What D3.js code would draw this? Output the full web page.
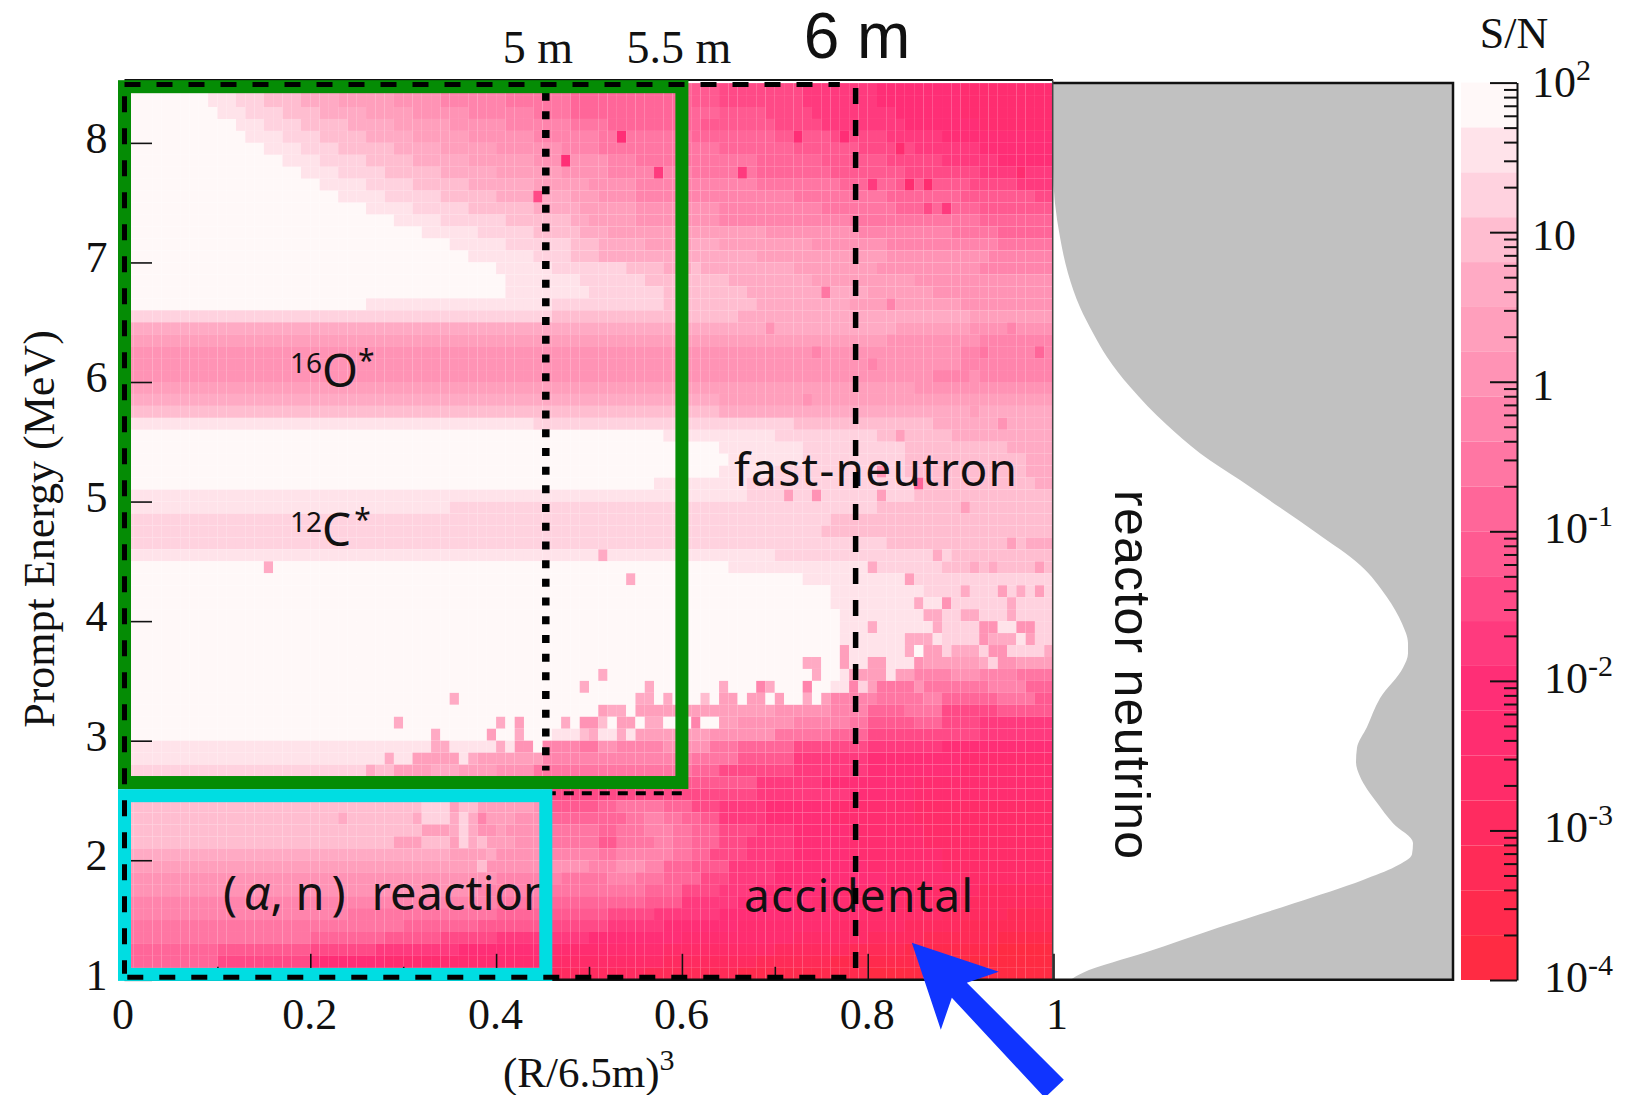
<!DOCTYPE html>
<html><head><meta charset="utf-8">
<script src="https://cdn.jsdelivr.net/npm/d3@7/dist/d3.min.js"></script>
<style>html,body{margin:0;background:#fff}svg{display:block}</style></head><body>
<svg id="c" width="1643" height="1095"></svg>
<script>
// S/N colour bands, top of the colour bar (10^2) to bottom (10^-4)
const bandColors = ["#fff8f8","#ffe3ea","#ffd2df","#ffbdd0","#ffaac4","#ff9fbc","#ff93b5","#ff84ac","#ff76a3","#ff6699",
 "#ff5a91","#ff4a87","#ff3a7e","#ff2e76","#ff2d70","#ff2c69","#ff2b60","#ff2b57","#ff2a4d","#ff2b43"];
const cbarTicksMajor = [100,10,1,0.1,0.01,0.001,0.0001];
const cbarLabels = [["10","2"],["10",""],["1",""],["10","-1"],["10","-2"],["10","-3"],["10","-4"]];
// Heat map, rows from 8.5 MeV downward: "column:band" runs, 100 columns of 0.01 and 75 rows of 0.1 MeV
const heatRows = [
"0:0 9:1 12:2 15:3 19:4 23:5 29:6 34:7 41:8 48:9 61:10 64:11 73:12 81:13 90:14",
"0:0 9:1 12:2 15:3 19:4 23:5 29:6 34:7 41:8 48:9 61:10 64:11 73:12 81:13 90:14",
"0:0 10:1 13:2 17:3 21:4 26:5 31:6 37:7 44:8 48:9 64:10 69:11 74:12 83:13 90:14",
"0:0 12:1 15:2 19:3 24:4 29:5 35:6 41:7 48:8 52:9 62:10 70:11 75:12 84:13 92:14",
"0:0 13:1 17:2 21:3 26:4 31:5 37:6 44:7 51:8 61:9 70:10 76:11 82:12 88:13",
"0:0 15:1 19:2 23:3 29:4 34:5 40:6 47:7 51:8 64:9 72:10 79:11 85:12 92:13",
"0:0 17:1 21:2 26:3 31:4 37:5 44:6 52:7 55:8 68:9 75:10 82:11 88:12 94:13",
"0:0 19:1 23:2 28:3 34:4 40:5 47:6 52:7 61:8 68:9 76:10 84:11 92:12",
"0:0 21:1 26:2 31:3 37:4 44:5 50:6 55:7 68:8 77:9 83:10 91:11 96:12",
"0:0 23:1 28:2 34:3 40:4 48:5 51:6 55:7 72:8 82:9 90:10 98:11",
"0:0 26:1 31:2 37:3 44:4 49:5 55:6 64:7 75:8 83:9 92:10",
"0:0 29:1 34:2 41:3 48:4 50:5 55:6 64:7 78:8 92:9",
"0:0 32:1 38:2 44:3 49:4 52:5 69:6 79:7 89:8 94:9",
"0:0 35:1 41:2 48:3 51:4 56:5 61:4 64:5 74:6 82:7 94:8",
"0:0 37:1 44:2 48:3 51:4 68:5 82:6 93:7",
"0:0 40:1 46:2 54:3 58:4 61:3 62:4 72:5 81:6 92:7",
"0:0 41:1 49:2 56:3 65:4 74:5 85:6",
"0:0 41:1 50:2 58:3 67:4 80:5 87:6",
"0:0 26:1 46:2 58:3 68:4 78:5 90:6",
"0:2 46:3 66:4 91:5",
"0:4 83:5 91:6",
"0:5 82:6 92:7",
"0:6 90:7",
"0:6 90:7",
"0:6 88:7",
"0:5 85:6",
"0:4 64:5",
"0:3 64:4",
"0:1 44:2 72:3 87:4",
"0:0 58:1 70:2 81:3 89:4",
"0:0 64:1 73:2 84:3 95:4",
"0:0 65:1 73:2 84:3 97:4",
"0:0 64:1 70:2 84:3 97:4",
"0:0 57:1 67:2 85:3 98:4",
"0:1 67:2 85:3",
"0:1 35:2 81:3",
"0:2 76:3",
"0:2 75:3",
"0:2 82:3 97:4",
"0:1 70:2 89:3",
"0:0 65:1 81:2 88:3",
"0:0 73:1 85:2",
"0:0 76:1 86:2",
"0:0 76:1 85:4 86:1 88:6 89:2 95:4 96:2",
"0:0 77:1 86:4 88:2 90:4 92:2 95:4 96:2",
"0:0 77:1 80:4 81:1 87:4 88:2 92:6 94:1 96:6 98:2",
"0:0 77:1 84:4 87:1 88:2 92:6 93:4 96:1 97:5 98:2",
"0:0 77:5 78:1 84:4 85:0 86:5 88:2 89:4 92:2 93:6 95:2 99:4",
"0:0 73:4 75:0 77:5 78:1 80:5 82:1 85:6 86:5 92:4 93:2 94:6 96:5",
"0:0 51:4 52:0 74:4 75:0 77:1 78:5 82:1 83:5 85:7 89:6 92:7 96:8",
"0:0 49:4 50:0 56:4 57:0 64:4 65:0 68:7 69:4 70:0 73:7 74:0 76:1 78:7 79:2 80:5 81:8 85:6 86:8 93:7 97:9",
"0:0 35:4 36:0 55:4 57:0 58:4 59:0 62:3 63:0 64:5 66:0 67:5 69:0 70:5 71:0 73:4 74:0 75:5 76:7 81:8 86:7 88:9 94:8 98:10",
"0:0 51:5 52:4 54:0 55:5 70:6 76:7 80:9 84:8 88:11 94:10",
"0:0 29:4 30:0 40:4 41:0 42:5 43:0 47:4 48:0 49:6 51:3 52:0 53:5 55:0 56:4 58:0 61:7 62:0 64:5 66:6 72:7 78:8 80:10 85:9 88:11 92:12",
"0:0 33:4 34:0 39:5 40:0 42:4 43:0 46:1 49:3 50:4 51:1 53:4 54:1 55:5 63:6 70:8 76:9 80:11 92:12",
"0:1 33:4 35:1 40:4 41:1 42:6 44:0 45:7 49:8 51:6 53:7 58:6 63:8 66:9 72:11 80:12 88:13",
"0:1 28:4 29:1 31:5 36:1 37:4 38:5 45:7 61:8 66:10 72:12 80:13 90:14",
"0:2 26:4 27:3 29:5 33:4 36:5 40:6 44:8 61:9 64:11 72:12 80:13 90:14",
"0:3 30:4 40:6 45:10 68:12 75:13 85:14",
"0:3 40:5 46:11 68:12 78:13 85:14",
"0:3 32:2 35:5 36:3 38:5 44:6 46:10 51:9 53:8 58:9 61:11 64:12 69:13 76:14 85:15",
"0:3 23:4 24:3 31:4 32:2 35:4 36:2 37:4 38:7 39:5 42:6 46:9 54:8 56:7 58:8 60:9 62:10 64:12 69:13 76:14 85:15",
"0:3 32:5 35:4 36:2 37:4 38:6 40:5 41:6 46:8 51:9 53:8 56:7 59:8 61:9 64:11 68:12 72:13 78:14 86:15",
"0:3 29:5 32:3 35:5 36:2 37:4 38:3 39:5 42:6 46:8 51:10 53:8 57:7 59:8 61:9 64:11 67:12 72:13 78:14 86:15",
"0:4 35:5 39:4 40:6 46:7 51:8 53:7 59:8 61:9 63:11 67:12 72:13 78:14 88:15",
"0:5 38:3 39:6 50:7 53:6 56:7 58:9 61:10 65:12 70:13 80:14 88:15",
"0:6 40:7 47:8 52:7 55:8 58:9 62:11 65:12 70:13 82:14 90:15",
"0:6 38:7 46:8 56:9 60:11 64:12 68:13 76:14 85:15 92:16",
"0:7 40:8 46:9 56:10 60:12 66:13 74:14 82:15 90:16",
"0:7 24:8 40:9 46:10 52:11 57:12 64:13 72:14 80:15 88:16 95:17",
"0:8 30:9 38:10 46:11 52:12 58:13 66:14 76:15 84:16 90:17",
"0:8 20:9 28:10 34:11 40:12 50:13 60:14 72:15 80:16 86:17 94:18",
"0:9 10:10 20:11 27:12 36:13 46:14 58:15 70:16 78:17 84:18 94:19",
"0:9 10:11 20:13 28:14 46:15 58:16 68:17 76:18 88:19",
"0:11 10:12 20:14 30:15 46:16 56:17 66:18 80:19"
];
// Isolated cells: row, column, band
const heatSpots = [[9,44,11],[6,47,13],[4,53,13],[4,72,13],[4,77,13],[5,83,14],[7,57,12],[7,66,12],[7,96,14],[8,80,12],[8,84,14],[8,86,14],[10,86,11],[10,88,12],[17,75,8],[18,82,7],[20,69,6],[20,95,7],[22,74,7],[22,92,8],[22,94,7],[22,98,9],[23,80,7],[23,93,7],[24,87,7],[24,91,6],[26,73,6],[27,91,5],[28,94,6],[29,83,5],[32,81,6],[33,85,9],[34,71,5],[34,74,6],[34,81,5],[35,90,5],[38,95,5],[39,51,4],[39,87,4],[40,15,4],[40,80,4],[40,91,4],[40,93,4],[40,98,5],[41,54,4],[41,84,5],[42,90,4],[42,94,5],[42,96,4],[42,98,5]];
// Reactor neutrino spectrum (side panel)
const specEnergy = [8.5,7.795,7.21,6.91,6.625,6.41,6.21,5.96,5.64,5.405,5.18,4.95,4.735,4.47,4.20,3.98,3.815,3.73,3.61,3.355,3.115,2.94,2.82,2.70,2.48,2.31,2.145,2.05,1.945,1.835,1.64,1.435,1.23,1.06,1.0];
const specFlux = [0,0,0.0175,0.0375,0.0675,0.10,0.135,0.1925,0.285,0.3675,0.4675,0.5675,0.66,0.7675,0.835,0.8725,0.8875,0.8875,0.875,0.8175,0.785,0.76,0.7575,0.7675,0.81,0.85,0.90,0.8975,0.855,0.775,0.6025,0.4125,0.2325,0.075,0.0425];
const xTickValues = [0,0.2,0.4,0.6,0.8,1];
const xTickMinor = [0.1,0.3,0.5,0.7,0.9];
const yTickValues = [1,2,3,4,5,6,7,8];
const r5 = 0.4535, r55 = 0.6055, r6 = 0.787;

const svg = d3.select("#c");
const SERIF = "'Liberation Serif',serif", SANS = "'Liberation Sans',sans-serif", JP = "'Noto Sans',sans-serif";
const x = d3.scaleLinear([0,1],[124.5,1053.5]);
const y = d3.scaleLinear([1,8.5],[979.8,83.1]);
const band = d3.scaleOrdinal(d3.range(bandColors.length), bandColors);

// cells
const cells = [];
heatRows.forEach((s,r)=>{
  const runs = s.split(" ").map(t=>t.split(":").map(Number));
  runs.forEach(([c0,l],i)=>{
    const c1 = i+1<runs.length ? runs[i+1][0] : 100;
    for(let c=c0;c<c1;c++) cells.push({r,c,l});
  });
});
const spot = new Map(heatSpots.map(([r,c,l])=>[r*100+c,l]));
cells.forEach(d=>{const k=d.r*100+d.c; if(spot.has(k)) d.l=spot.get(k);});
svg.append("g").selectAll("rect").data(cells).join("rect")
  .attr("x",d=>x(d.c/100)).attr("width",d=>x((d.c+1)/100)-x(d.c/100))
  .attr("y",d=>y(8.5-d.r/10)).attr("height",d=>y(8.4-d.r/10)-y(8.5-d.r/10))
  .attr("fill",d=>band(d.l));

// side panel
const sx = d3.scaleLinear([0,1],[1053,1453]);
svg.append("rect").attr("x",sx(0)).attr("y",y(8.5)).attr("width",sx(1)-sx(0)).attr("height",y(1)-y(8.5)).attr("fill","#c1c1c1");
const pts = specEnergy.map((e,i)=>[e,specFlux[i]]);
svg.append("path").datum(pts).attr("fill","#fff")
  .attr("d",d3.area().y(d=>y(d[0])).x0(sx(0)).x1(d=>sx(d[1])).curve(d3.curveMonotoneY));
svg.append("path").attr("fill","none").attr("stroke","#111").attr("stroke-width",2.5)
  .attr("d",`M${sx(0)},${y(8.5)}H${sx(1)}V${y(1)}H${sx(0)}`);
svg.append("line").attr("x1",x(0)).attr("x2",sx(0)).attr("y1",80).attr("y2",80).attr("stroke","#111").attr("stroke-width",2);
svg.append("line").attr("x1",1052.7).attr("x2",1052.7).attr("y1",80).attr("y2",y(1)).attr("stroke","#444").attr("stroke-width",1.5);
svg.append("line").attr("x1",x(0)).attr("x2",sx(0)).attr("y1",y(1)).attr("y2",y(1)).attr("stroke","#111").attr("stroke-width",2.5);

function clean(g){g.select(".domain").remove();g.selectAll("line").attr("stroke","#111").attr("stroke-width",1.6);}
// axes
const xa = svg.append("g").attr("transform",`translate(0,${y(1)})`)
  .call(d3.axisBottom(x).tickValues(xTickValues).tickFormat(d=>d===0?"0":d===1?"1":d3.format(".1f")(d)).tickSize(-26).tickPadding(18)).call(clean);
xa.selectAll("text").attr("font-family",SERIF).attr("font-size",44).attr("fill","#111").attr("dx",d=>d===1?3:d===0?-2:-1);
svg.append("g").attr("transform",`translate(0,${y(1)})`)
  .call(d3.axisBottom(x).tickValues(xTickMinor).tickFormat("").tickSize(-13)).call(clean);
const ya = svg.append("g").attr("transform",`translate(${x(0)},0)`)
  .call(d3.axisLeft(y).tickValues(yTickValues).tickFormat(d3.format("d")).tickSize(-27.5).tickPadding(17)).call(clean);
ya.selectAll("text").attr("font-family",SERIF).attr("font-size",44).attr("fill","#111").attr("dy",9.5);

function label(t,px,py,size,fam,anchor,rot,len){
  const e = svg.append("text").attr("font-family",fam).attr("font-size",size).attr("fill","#111")
    .attr("text-anchor",anchor||"start").text(t);
  if(rot) e.attr("transform",`translate(${px},${py}) rotate(${rot})`); else e.attr("x",px).attr("y",py);
  if(len) e.attr("textLength",len).attr("lengthAdjust","spacing");
  return e;
}
label("Prompt Energy (MeV)",54,529,44,SERIF,"middle",-90);
const xt = label("(R/6.5m)",503,1087,43,SERIF);
xt.append("tspan").attr("font-size",30).attr("dy",-17).text("3");
label("5 m",538,63,46,SERIF,"middle");
label("5.5 m",679,63,46,SERIF,"middle");
label("6 m",857,58,64,SANS,"middle");
label("S/N",1514,48,44,SERIF,"middle");

// annotations under boxes
label("fast-neutron",734,486,46,JP,"start",0,283);
label("accidental",744,912,46,JP,"start",0,229);
const an = label("(",223,910,47,JP);
an.append("tspan").attr("dx",7).attr("font-style","italic").text("α");
an.append("tspan").text(", n");
an.append("tspan").attr("dx",7).text(")");
an.append("tspan").attr("dx",26).text("reaction");
const iso = [["16","O*",387,0],["12","C*",546,3]];
iso.forEach(([a,b,by,gap])=>{
  const t = label("",290,by,46,JP);
  t.append("tspan").attr("font-size",28).attr("dy",-14).text(a);
  t.append("tspan").attr("dy",14).text(b.charAt(0));
  t.append("tspan").attr("font-size",30).attr("dy",-16).attr("dx",gap).text(b.charAt(1));
});
label("reactor neutrino",1115,490,50,SANS,"start",90,369);

// fiducial lines
function seg(x1,e1,x2,e2,w,dash,col){
  return svg.append("line").attr("x1",x(x1)).attr("y1",y(e1)).attr("x2",x(x2)).attr("y2",y(e2))
    .attr("stroke",col||"#000").attr("stroke-width",w).attr("stroke-dasharray",dash||null);
}
seg(r5,8.42,r5,2.75,7.5,"8 10.7");          // 5 m
seg(r5,2.56,r55,2.56,4,"10 8");            // 5.5 m lower edge
seg(r6,8.46,r6,1.08,5.5,"16 16");           // 6 m
// boxes
const fid = (x0,x1,e0,e1,c)=>svg.append("rect").attr("x",x(x0)).attr("y",y(e1)).attr("width",x(x1)-x(x0)).attr("height",y(e0)-y(e1))
  .attr("fill","none").attr("stroke",c).attr("stroke-width",13);
fid(0,r5,1.045,2.54,"#00dde2");
fid(0,0.6,2.65,8.47,"#058c05");
// 6 m dashed outline
seg(0,8.488,0.77,8.488,5,"16 16");
seg(0,8.39,0,1.05,5,"16 16");
seg(0.003,1.022,0.777,1.022,5,"16 16");

// arrow
const tip = [x(0.8475),y(1.31)];
svg.append("path").attr("transform",`translate(${tip})`).attr("fill","#1034ff")
  .attr("d","M0,0L87,29L55,40L152,137L133,155L40,55L29,87Z");

// colour bar
const cb = d3.scaleLog([100,1e-4],[82.6,980]);
const cbEdge = d3.scaleLinear([0,bandColors.length],[82.6,980]);
svg.append("g").selectAll("rect").data(bandColors).join("rect")
  .attr("x",1461).attr("width",56).attr("y",(d,i)=>cbEdge(i)).attr("height",(d,i)=>cbEdge(i+1)-cbEdge(i)).attr("fill",d=>d);
const minor = [];
cbarTicksMajor.slice(1).forEach(m=>d3.range(2,10).forEach(k=>minor.push(m*k)));
svg.append("g").attr("transform","translate(1517,0)")
  .call(d3.axisLeft(cb).tickValues(minor).tickFormat("").tickSize(13).tickSizeOuter(0))
  .call(g=>{g.select(".domain").attr("stroke","#111").attr("stroke-width",2);g.selectAll("line").attr("stroke","#111").attr("stroke-width",2);});
svg.append("g").attr("transform","translate(1517,0)")
  .call(d3.axisLeft(cb).tickValues(cbarTicksMajor).tickFormat("").tickSize(27))
  .call(clean).selectAll("line").attr("stroke-width",2);
cbarTicksMajor.forEach((v,i)=>{
  const off = v===100?14:v>=1?18:12;
  const t = label(cbarLabels[i][0],v>=1?1532:1544,cb(v)+off,44,SERIF);
  if(cbarLabels[i][1]) t.append("tspan").attr("font-size",30).attr("dy",-17).text(cbarLabels[i][1]);
});
</script>
</body></html>
